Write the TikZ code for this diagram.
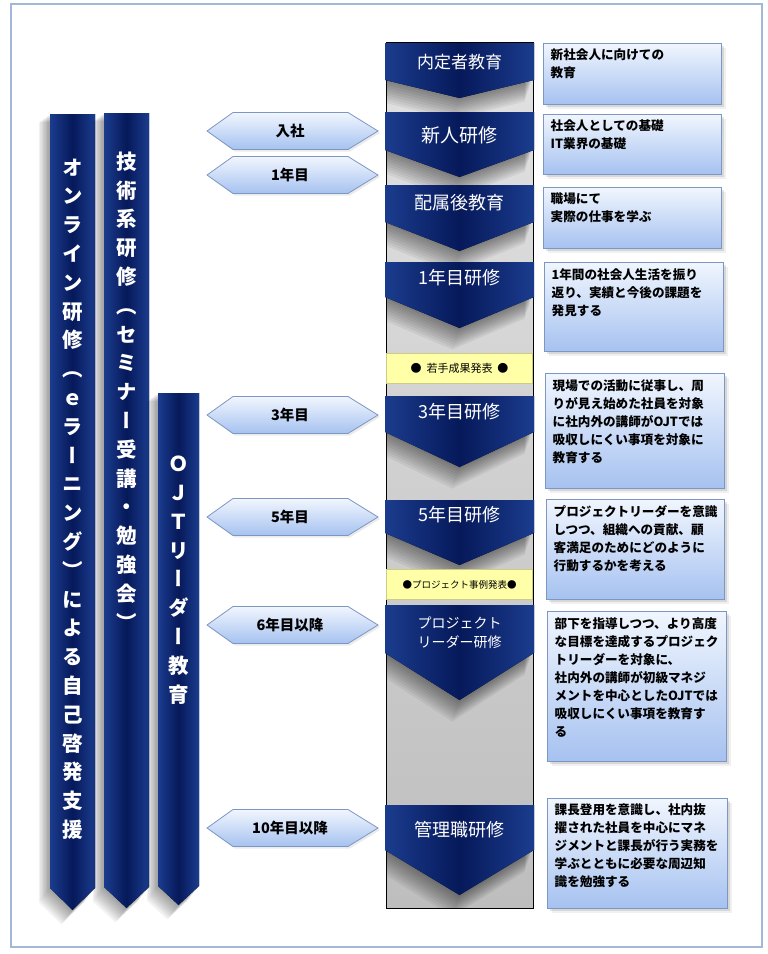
\documentclass[tikz,border=0pt]{standalone}
\usepackage{fontspec}
\setmainfont{Noto Sans CJK JP}
\newfontfamily\tatefont[RawFeature=+vert]{Noto Sans CJK JP}
\usetikzlibrary{calc,positioning}
\definecolor{FrameLine}{HTML}{A3B7D8}
\definecolor{NavyMid}{HTML}{06195A}
\definecolor{NavyEdge}{HTML}{1B3C8E}
\definecolor{PanelTop}{HTML}{E2E2E2}
\definecolor{PanelBottom}{HTML}{BEBEBE}
\definecolor{NoteFill}{HTML}{FFFFA8}
\definecolor{CardTop}{HTML}{F1F6FE}
\definecolor{CardBottom}{HTML}{A6C2F0}
\definecolor{CardLine}{HTML}{7D97C4}

\begin{document}
\begin{tikzpicture}[
    x=1pt, y=-1pt,
    navyfill/.style={left color=NavyEdge, right color=NavyEdge, middle color=NavyMid},
    cardfill/.style={top color=CardTop, bottom color=CardBottom, draw=CardLine, line width=0.8pt},
    tagfill/.style={top color=CardTop, bottom color=CardBottom, draw=CardLine, line width=0.8pt},
    stagelabel/.style={text=white, align=center, inner sep=0pt},
    cardtext/.style={anchor=north west, inner sep=0pt, align=left,
      font=\bfseries\fontsize{12.6}{18}\selectfont},
    taglabel/.style={inner sep=0pt, font=\bfseries\fontsize{14.5}{16}\selectfont},
    barlabel/.style={text=white, align=center, inner sep=0pt,
      font=\tatefont\bfseries\fontsize{20.5}{28.8}\selectfont},
    note/.style={fill=NoteFill, draw=NoteFill!80!black, line width=0.3pt,
      minimum width=146pt, minimum height=30pt, inner sep=0pt}
  ]
  \useasboundingbox (0,0) rectangle (768,954);
  \fill[white] (0,0) rectangle (768,954);

  % outer frame
  \draw[FrameLine, line width=2pt] (11,4) rectangle (762,947);

  % left bars with soft shadows
  \foreach \xl/\xr/\yt/\ys/\yp in {50/95/114/888/910, 104/149/113/887/908, 158/199/393/886/905}{
    \foreach \d in {2,4,...,16}
      \fill[black, opacity=0.05] ($(\xl-\d*0.7,\yt+\d*0.5)$) -- ($(\xr-\d*0.7,\yt+\d*0.5)$)
        -- ($(\xr-\d*0.7,\ys+\d*0.9)$) -- ($(0.5*\xl+0.5*\xr-\d*0.7,\yp+\d*0.9)$)
        -- ($(\xl-\d*0.7,\ys+\d*0.9)$) -- cycle;
    \fill[navyfill] (\xl,\yt) -- (\xr,\yt) -- (\xr,\ys) -- ({0.5*\xl+0.5*\xr},\yp) -- (\xl,\ys) -- cycle;
  }
  \node[barlabel] (online) at (72.5,499)
    {オ\\ン\\ラ\\イ\\ン\\研\\修\\（\\ｅ\\ラ\\ー\\ニ\\ン\\グ\\）\\に\\よ\\る\\自\\己\\啓\\発\\支\\援};
  \node[barlabel] (seminar) at (126.5,391)
    {技\\術\\系\\研\\修\\（\\セ\\ミ\\ナ\\ー\\受\\講\\・\\勉\\強\\会\\）};
  \node[barlabel] (ojt) at (178.5,580)
    {Ｏ\\Ｊ\\Ｔ\\リ\\ー\\ダ\\ー\\教\\育};

  % year tags
  \foreach \yc/\lbl [count=\i] in {131/入社, 175/1年目, 415/3年目, 517/5年目, 625/6年目以降, 828/10年目以降}{
    \fill[black, opacity=0.08] (209,\yc+2) -- (235,\yc-16.5) -- (350,\yc-16.5) -- (380,\yc+2)
      -- (350,\yc+20.5) -- (235,\yc+20.5) -- cycle;
    \path[tagfill] (207,\yc) -- (233,\yc-18.5) -- (348,\yc-18.5) -- (378,\yc)
      -- (348,\yc+18.5) -- (233,\yc+18.5) -- cycle;
    \node[taglabel] (tag\i) at (290,\yc) {\lbl};
  }

  % central column
  \draw[black, line width=1pt, top color=PanelTop, bottom color=PanelBottom] (386,42) rectangle (533,908);

  % stages
  \foreach \yt/\ys/\yp/\yl/\fs/\lbl [count=\i] in {
      43/80/98/62/17/内定者教育,
      112/150/177/135/19/新人研修,
      185/222/251/203/18/配属後教育,
      262/297/328/278/18/1年目研修,
      396/432/467/412/18/3年目研修,
      500/533/565/515/18/5年目研修,
      605/653/700/633/14/{プロジェクト\\リーダー研修},
      805/850/895/830/18/管理職研修}{
    \begin{scope}
      \clip (387,\yt) rectangle (532,907);
      \foreach \d in {2,4,...,18}
        \fill[black, opacity=0.055] ($(387-\d*0.4,\yt+\d)$) -- ($(532-\d*0.4,\yt+\d)$)
          -- ($(532-\d*0.4,\ys+\d*1.2)$) -- ($(459.5-\d*0.4,\yp+\d*1.2)$)
          -- ($(387-\d*0.4,\ys+\d*1.2)$) -- cycle;
    \end{scope}
    \fill[navyfill] (385,\yt) -- (534,\yt) -- (534,\ys) -- (459.5,\yp) -- (385,\ys) -- cycle;
    \node[stagelabel, font=\fontsize{\fs}{19}\selectfont] (stage\i) at (459.5,\yl) {\lbl};
  }

  % notes
  \node[note, font=\fontsize{11}{13}\selectfont] (young) at (459.5,368) {●\ \ 若手成果発表\ \ ●};
  \node[note, font=\fontsize{9.5}{12}\selectfont] (casestudy) at (459.5,584.5) {●プロジェクト事例発表●};

  % cards
  \foreach \yt/\yb/\xl/\xr/\txt [count=\i] in {
      43/104/543/721/{新社会人に向けての\\教育},
      114/174/543/721/{社会人としての基礎\\IT業界の基礎},
      187/248/543/721/{職場にて\\実際の仕事を学ぶ},
      262/351/544/723/{1年間の社会人生活を振り\\返り、実績と今後の課題を\\発見する},
      373/488/545/724/{現場での活動に従事し、周\\りが見え始めた社員を対象\\に社内外の講師がOJTでは\\吸収しにくい事項を対象に\\教育する},
      499/599/546/724/{プロジェクトリーダーを意識\\しつつ、組織への貢献、顧\\客満足のためにどのように\\行動するかを考える},
      611/761/547/726/{部下を指導しつつ、より高度\\な目標を達成するプロジェク\\トリーダーを対象に、\\社内外の講師が初級マネジ\\メントを中心としたOJTでは\\吸収しにくい事項を教育す\\る},
      798/908/547/727/{課長登用を意識し、社内抜\\擢された社員を中心にマネ\\ジメントと課長が行う実務を\\学ぶとともに必要な周辺知\\識を勉強する}}{
    \fill[black, opacity=0.10] (\xl+3,\yt+3) rectangle (\xr+3,\yb+3);
    \fill[black, opacity=0.06] (\xl+4.5,\yt+4.5) rectangle (\xr+4.5,\yb+4.5);
    \path[cardfill] (\xl,\yt) rectangle (\xr,\yb);
    \node[cardtext] (card\i) at (\xl+7.5,\yt+6) {\txt};
  }
\end{tikzpicture}
\end{document}
